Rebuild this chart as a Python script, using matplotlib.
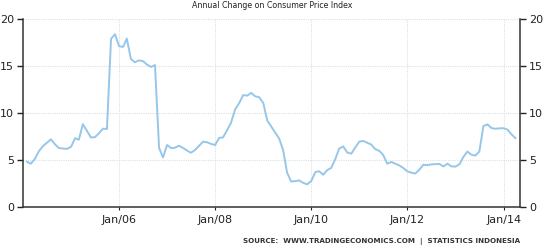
import numpy as np
import pandas as pd
import matplotlib
matplotlib.use("Agg")
import matplotlib.pyplot as plt
import matplotlib.dates as mdates

# Indonesia CPI, annual change (%), monthly Jan 2004 - Mar 2014
cpi_2004 = [4.82, 4.60, 5.11, 5.92, 6.47, 6.83, 7.20, 6.67, 6.27, 6.22, 6.18, 6.40]
cpi_2005 = [7.32, 7.15, 8.81, 8.12, 7.40, 7.42, 7.84, 8.33, 8.30, 17.89, 18.38, 17.11]
cpi_2006 = [17.03, 17.92, 15.74, 15.40, 15.60, 15.53, 15.15, 14.90, 15.10, 6.29, 5.27, 6.60]
cpi_2007 = [6.26, 6.30, 6.52, 6.29, 6.01, 5.77, 6.06, 6.51, 6.95, 6.88, 6.71, 6.59]
cpi_2008 = [7.36, 7.40, 8.17, 8.96, 10.38, 11.03, 11.90, 11.85, 12.14, 11.77, 11.68, 11.06]
cpi_2009 = [9.17, 8.60, 7.92, 7.31, 6.04, 3.65, 2.71, 2.75, 2.83, 2.57, 2.41, 2.78]
cpi_2010 = [3.72, 3.81, 3.43, 3.91, 4.16, 5.05, 6.22, 6.44, 5.80, 5.67, 6.33, 6.96]
cpi_2011 = [7.02, 6.84, 6.65, 6.16, 5.98, 5.54, 4.61, 4.79, 4.61, 4.42, 4.15, 3.79]
cpi_2012 = [3.65, 3.56, 3.97, 4.50, 4.45, 4.53, 4.56, 4.58, 4.31, 4.61, 4.32, 4.30]
cpi_2013 = [4.57, 5.31, 5.90, 5.57, 5.47, 5.90, 8.61, 8.79, 8.40, 8.32, 8.37, 8.38]
cpi_2014 = [8.22, 7.75, 7.32]

values = (cpi_2004 + cpi_2005 + cpi_2006 + cpi_2007 + cpi_2008 + cpi_2009
          + cpi_2010 + cpi_2011 + cpi_2012 + cpi_2013 + cpi_2014)
dates = pd.date_range("2004-01-31", periods=len(values), freq="ME")

tick_years = [2006, 2008, 2010, 2012, 2014]
tick_labels = ["Jan/06", "Jan/08", "Jan/10", "Jan/12", "Jan/14"]
y_ticks = [0, 5, 10, 15, 20]

fig = plt.figure(figsize=(5.44, 2.47), dpi=100)
ax = fig.add_axes([23 / 544, 40 / 247, 497 / 544, 188 / 247])

ax.plot(dates, values, color="#97c7e8", lw=1.4, solid_joinstyle="round")

ax.set_xlim(pd.Timestamp("2004-01-01"), pd.Timestamp("2014-05-05"))
ax.set_ylim(0, 20)
ax.set_xticks([pd.Timestamp(f"{y}-01-01") for y in tick_years])
ax.set_xticklabels(tick_labels)
ax.set_yticks(y_ticks)

ax.grid(True, color="#d8e2e6", lw=0.8, ls=(0, (1, 1)))
ax.set_axisbelow(True)

for side in ["left", "right", "bottom"]:
    ax.spines[side].set_color("#333333")
    ax.spines[side].set_linewidth(1.1)
ax.spines["top"].set_visible(False)

ax.tick_params(axis="y", which="both", left=True, right=True, labelleft=True,
               labelright=True, direction="out", length=4.5, width=1.0,
               pad=2, labelsize=8, colors="#222222")
ax.tick_params(axis="x", direction="out", length=2.5, width=0.8, pad=3,
               labelsize=8, colors="#222222")

fig.text(0.5, 1 - 5 / 247, "Annual Change on Consumer Price Index", ha="center",
         va="center", fontsize=5.7, color="#222222")
fig.text(520 / 544, 1 - 241 / 247,
         "SOURCE:  WWW.TRADINGECONOMICS.COM  |  STATISTICS INDONESIA",
         ha="right", va="center", fontsize=5.1, fontweight="bold", color="#333333")

fig.savefig("out.png", dpi=100)
